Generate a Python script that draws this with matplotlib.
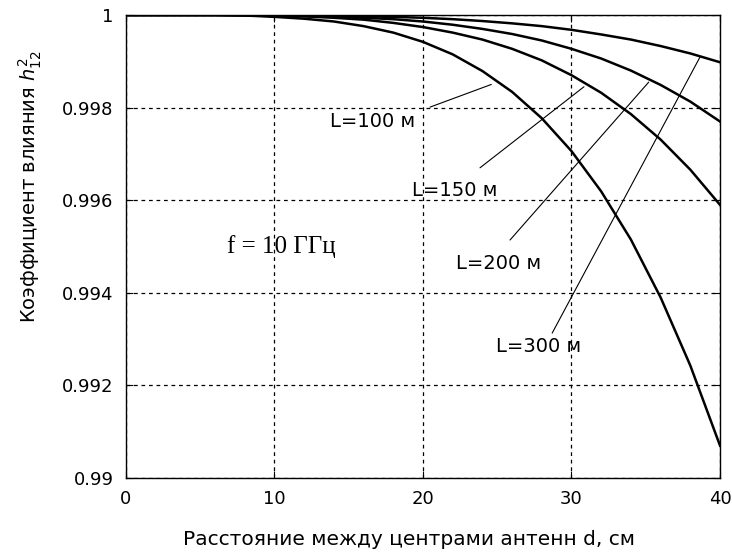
import matplotlib
matplotlib.use('Agg')
from matplotlib import pyplot as plt

# distance between antenna centres, cm
d_cm = [0, 2, 4, 6, 8, 10, 12, 14, 16, 18, 20, 22, 24, 26, 28, 30, 32, 34, 36, 38, 40]

# coupling coefficient h12^2
h_L100 = [1.0, 1.0, 1.0, 1.0, 0.99999, 0.99996, 0.99992, 0.99986, 0.99976, 0.99962, 0.99942,
          0.99915, 0.99879, 0.99834, 0.99777, 0.99706, 0.99619, 0.99515, 0.99390, 0.99243, 0.99070]
h_L150 = [1.0, 1.0, 1.0, 1.0, 0.99999, 0.99998, 0.99997, 0.99994, 0.99990, 0.99983, 0.99974,
          0.99962, 0.99947, 0.99927, 0.99902, 0.99870, 0.99832, 0.99786, 0.99731, 0.99666, 0.99590]
h_L200 = [1.0, 1.0, 1.0, 1.0, 1.0, 0.99999, 0.99998, 0.99997, 0.99994, 0.99991, 0.99986,
          0.99979, 0.99970, 0.99959, 0.99945, 0.99927, 0.99906, 0.99880, 0.99849, 0.99813, 0.99770]
h_L300 = [1.0, 1.0, 1.0, 1.0, 1.0, 1.0, 0.99999, 0.99998, 0.99997, 0.99996, 0.99994,
          0.99991, 0.99987, 0.99982, 0.99976, 0.99968, 0.99958, 0.99947, 0.99933, 0.99917, 0.99898]

curve_labels = ['L=100 м', 'L=150 м', 'L=200 м', 'L=300 м']

x_ticks = [0, 10, 20, 30, 40]
y_ticks = [0.99, 0.992, 0.994, 0.996, 0.998, 1.0]
y_tick_labels = ['0.99', '0.992', '0.994', '0.996', '0.998', '1']

fig = plt.figure(figsize=(7.32, 5.52), dpi=100)
ax = fig.add_axes([0.1721, 0.1341, 0.8115, 0.8387])

for h in (h_L100, h_L150, h_L200, h_L300):
    ax.plot(d_cm, h, color='black', lw=1.8, solid_joinstyle='round')

ax.set_xlim(0, 40)
ax.set_ylim(0.99, 1.0)
ax.set_xticks(x_ticks)
ax.set_xticklabels([str(v) for v in x_ticks])
ax.set_yticks(y_ticks)
ax.set_yticklabels(y_tick_labels)
ax.grid(True, color='black', linestyle=(0, (3, 3)), lw=0.9)
ax.tick_params(direction='in', top=True, right=True, length=5, width=0.8,
               labelsize=13, pad=9)
for s in ax.spines.values():
    s.set_linewidth(1.0)

# labels with leader lines
txt_pos = [(16.6, 0.99771), (22.15, 0.99622), (25.1, 0.99464), (27.8, 0.99283)]
lead_from = [(20.47, 0.99801), (23.84, 0.99670), (25.86, 0.99514), (28.7, 0.99313)]
lead_to = [(24.6, 0.99850), (30.84, 0.99845), (35.2, 0.99855), (38.65, 0.99909)]
for lab, p, a, b in zip(curve_labels, txt_pos, lead_from, lead_to):
    ax.text(p[0], p[1], lab, ha='center', va='center', fontsize=14)
    ax.annotate('', xy=b, xytext=a,
                arrowprops=dict(arrowstyle='-', lw=0.8, color='black', shrinkA=0, shrinkB=0))

ax.text(10.44, 0.99499, 'f = 10 ГГц', ha='center', va='center',
        family='Liberation Serif', fontsize=18)

ax.set_xlabel('Расстояние между центрами антенн d, см', fontsize=14.5)
ax.set_ylabel('Коэффициент влияния $h_{12}^2$', fontsize=14)
ax.xaxis.set_label_coords(0.476, -0.112)
ax.yaxis.set_label_coords(-0.138, 0.63)

fig.savefig('out.png', dpi=100)
